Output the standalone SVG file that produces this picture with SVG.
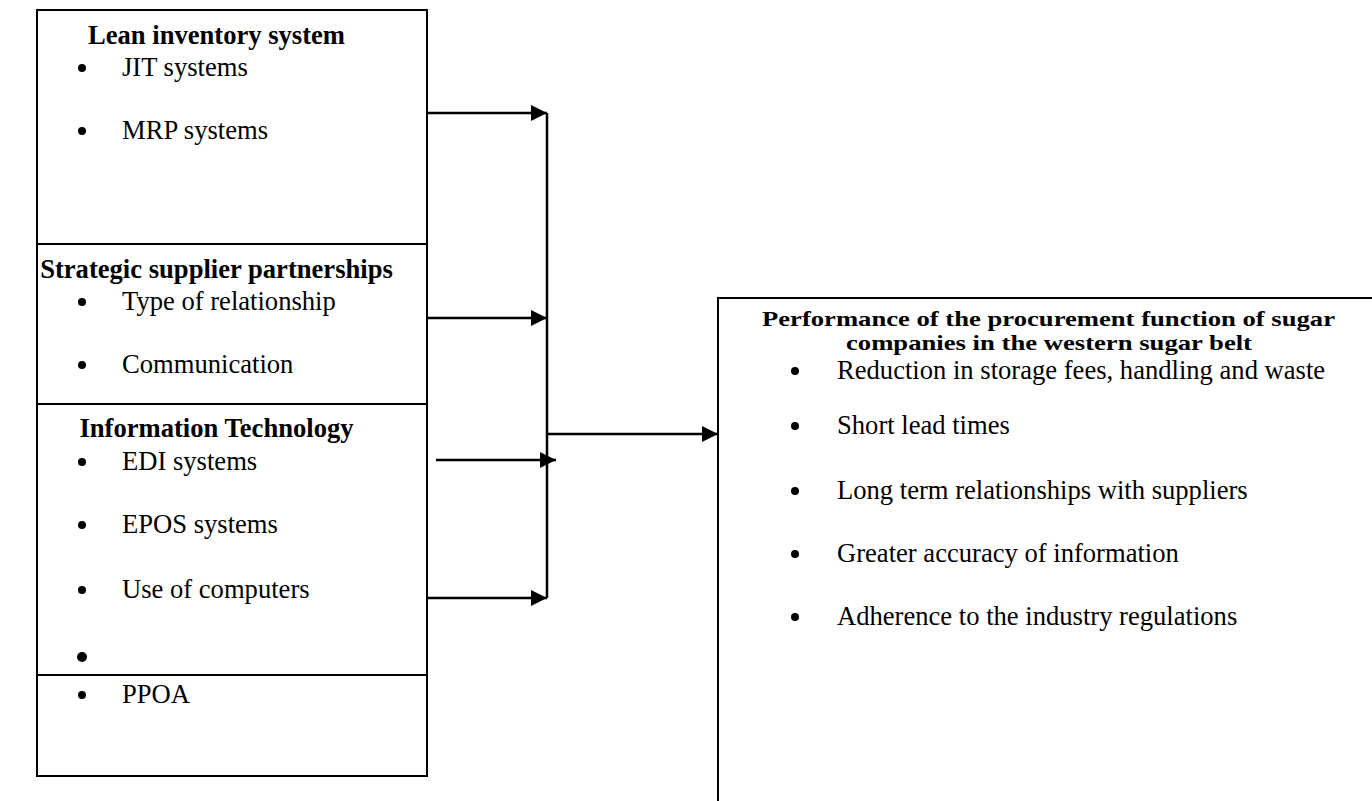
<svg xmlns="http://www.w3.org/2000/svg" width="1372" height="801" viewBox="0 0 1372 801">
<defs>
<style>
.box{fill:none;stroke:#000;stroke-width:2}
.t{font-family:"Liberation Serif","Times New Roman",serif;font-size:26.6px;fill:#000}
.b{font-weight:bold}
.h{font-family:"Liberation Serif","Times New Roman",serif;font-size:21px;font-weight:bold;fill:#000}
.c{stroke:#000;stroke-width:2.5;fill:none}
</style>
<marker id="ah" viewBox="0 0 16 16" refX="16" refY="8" markerWidth="16" markerHeight="16" markerUnits="userSpaceOnUse" orient="auto">
<path d="M0,0 L16,8 L0,16 Z" fill="#000"/>
</marker>
</defs>
<rect width="1372" height="801" fill="#fff"/>

<g id="lean">
<rect class="box" x="37" y="10" width="390" height="234"/>
<text class="t b" x="216.5" y="44" text-anchor="middle">Lean inventory system</text>
<circle cx="82" cy="68" r="4"/>
<text class="t" x="122" y="76">JIT systems</text>
<circle cx="82" cy="131" r="4"/>
<text class="t" x="122" y="139">MRP systems</text>
</g>

<g id="strategic">
<rect class="box" x="37" y="244" width="390" height="160"/>
<text class="t b" x="216.5" y="278" text-anchor="middle">Strategic supplier partnerships</text>
<circle cx="82" cy="302" r="4"/>
<text class="t" x="122" y="310">Type of relationship</text>
<circle cx="82" cy="365" r="4"/>
<text class="t" x="122" y="373">Communication</text>
</g>

<g id="it">
<rect class="box" x="37" y="404" width="390" height="271"/>
<text class="t b" x="216.5" y="437" text-anchor="middle">Information Technology</text>
<circle cx="82" cy="462" r="4"/>
<text class="t" x="122" y="470">EDI systems</text>
<circle cx="82" cy="525" r="4"/>
<text class="t" x="122" y="533">EPOS systems</text>
<circle cx="82" cy="590" r="4"/>
<text class="t" x="122" y="598">Use of computers</text>
<circle cx="82" cy="657" r="5"/>
</g>

<g id="ppoa">
<rect class="box" x="37" y="675" width="390" height="101"/>
<circle cx="82" cy="695" r="4"/>
<text class="t" x="122" y="703">PPOA</text>
</g>

<g id="performance">
<path class="box" d="M718,801 L718,298 L1372,298"/>
<text class="h" x="762" y="326" textLength="573" lengthAdjust="spacingAndGlyphs">Performance of the procurement function of sugar</text>
<text class="h" x="846" y="350" textLength="406" lengthAdjust="spacingAndGlyphs">companies in the western sugar belt</text>
<circle cx="795" cy="371" r="4"/>
<text class="t" x="837" y="379">Reduction in storage fees, handling and waste</text>
<circle cx="795" cy="426" r="4"/>
<text class="t" x="837" y="434">Short lead times</text>
<circle cx="795" cy="491" r="4"/>
<text class="t" x="837" y="499">Long term relationships with suppliers</text>
<circle cx="795" cy="554" r="4"/>
<text class="t" x="837" y="562">Greater accuracy of information</text>
<circle cx="795" cy="617" r="4"/>
<text class="t" x="837" y="625">Adherence to the industry regulations</text>
</g>

<g id="connectors">
<line class="c" x1="547" y1="113" x2="547" y2="598"/>
<line class="c" x1="427" y1="113" x2="547" y2="113" marker-end="url(#ah)"/>
<line class="c" x1="427" y1="318" x2="547" y2="318" marker-end="url(#ah)"/>
<line class="c" x1="436" y1="460" x2="556" y2="460" marker-end="url(#ah)"/>
<line class="c" x1="427" y1="598" x2="547" y2="598" marker-end="url(#ah)"/>
<line class="c" x1="547" y1="434" x2="718" y2="434" marker-end="url(#ah)"/>
</g>
</svg>
